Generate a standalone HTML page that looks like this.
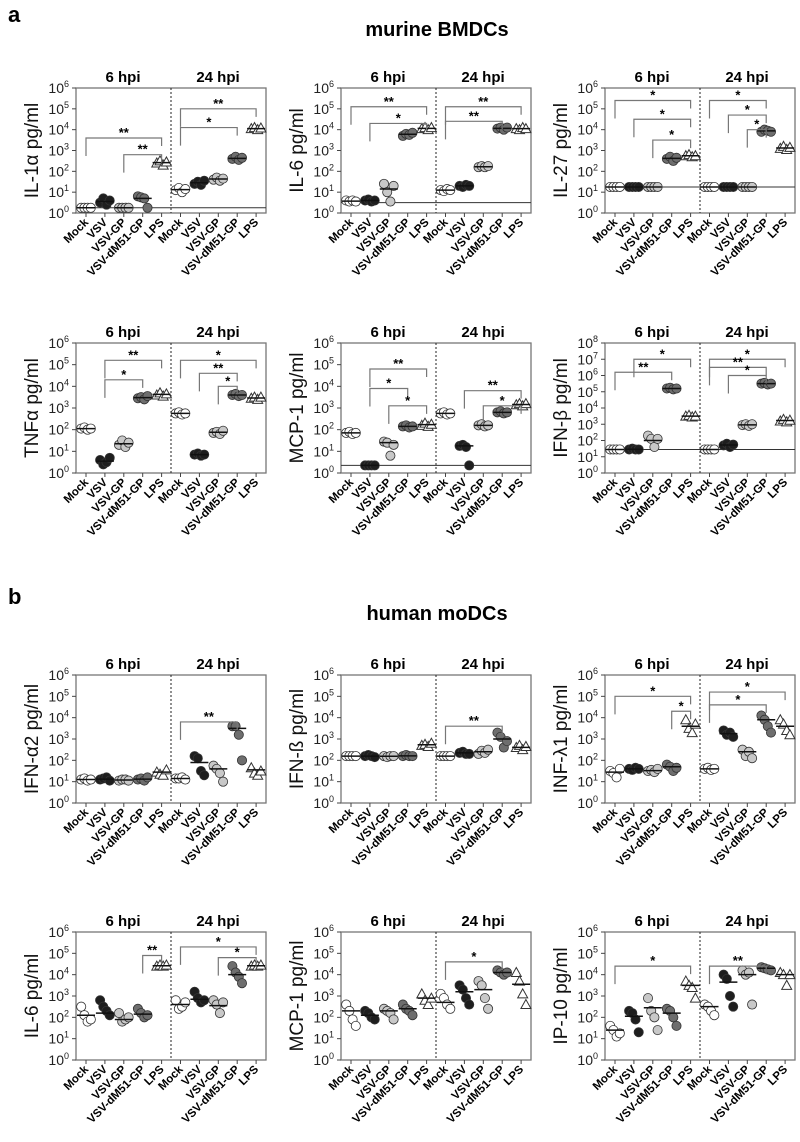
<!DOCTYPE html>
<html><head><meta charset="utf-8"><style>
body{margin:0;background:#fff;}
svg{display:block;font-family:"Liberation Sans",Arial,sans-serif;}
</style></head><body>
<svg id="fig" width="800" height="1142" viewBox="0 0 800 1142">
<text x="8" y="22" font-size="22" font-weight="bold">a</text>
<text x="437" y="36" font-size="20" font-weight="bold" text-anchor="middle">murine BMDCs</text>
<text x="8" y="604" font-size="22" font-weight="bold">b</text>
<text x="437" y="620" font-size="20" font-weight="bold" text-anchor="middle">human moDCs</text>
</svg>
<script>
const categories=["Mock","VSV","VSV-GP","VSV-dM51-GP","LPS","Mock","VSV","VSV-GP","VSV-dM51-GP","LPS"];
const titles=["IL-1α pg/ml","IL-6 pg/ml","IL-27 pg/ml","TNFα pg/ml","MCP-1 pg/ml","IFN-β pg/ml","IFN-α2 pg/ml","IFN-ß pg/ml","INF-λ1 pg/ml","IL-6 pg/ml","MCP-1 pg/ml","IP-10 pg/ml"];
const yMax=[6,6,6,6,6,8,6,6,6,6,6,6];
const lod=[0.25,0.5,1.25,null,0.35,1.45,null,null,null,null,null,null];
const pts=[
[[.25,.25,.25,.25],[.5,.7,.4,.6],[.25,.25,.25,.25],[.8,.75,.7,.25],[2.4,2.5,2.3,2.45],[1.1,1.2,1,1.15],[1.4,1.5,1.35,1.55],[1.6,1.7,1.55,1.65],[2.6,2.7,2.55,2.65],[4.05,4.1,4,4.08]],
[[.6,.55,.6,.55],[.6,.65,.55,.6],[1.4,1,.55,1.3],[3.7,3.8,3.75,3.85],[4.05,4.1,4,4.1],[1.1,1.05,1.15,1.1],[1.3,1.25,1.35,1.3],[2.2,2.25,2.2,2.25],[4.05,4.1,4,4.1],[4.05,4,4.1,4.05]],
[[1.25,1.25,1.25,1.25],[1.25,1.25,1.25,1.25],[1.25,1.25,1.25,1.25],[2.6,2.7,2.5,2.65],[2.75,2.8,2.7,2.75],[1.25,1.25,1.25,1.25],[1.25,1.25,1.25,1.25],[1.25,1.25,1.25,1.25],[3.9,4,3.95,3.9],[3.1,3.2,3.05,3.15]],
[[2.05,2.1,2,2.05],[.6,.4,.5,.7],[1.3,1.5,1.2,1.4],[3.45,3.5,3.4,3.55],[3.6,3.7,3.55,3.65],[2.75,2.8,2.7,2.75],[.85,.9,.8,.85],[1.85,1.9,1.8,1.95],[3.6,3.65,3.55,3.6],[3.45,3.5,3.4,3.5]],
[[1.85,1.9,1.8,1.85],[.35,.35,.35,.35],[1.45,1.4,.8,1.3],[2.15,2.2,2.1,2.15],[2.2,2.3,2.15,2.25],[2.75,2.8,2.7,2.75],[1.25,1.3,1.2,.35],[2.2,2.25,2.15,2.2],[2.8,2.85,2.75,2.8],[3.15,3.2,3.1,3.2]],
[[1.45,1.45,1.45,1.45],[1.45,1.5,1.45,1.45],[2.3,2.1,1.6,2.1],[5.2,5.25,5.15,5.2],[3.5,3.55,3.45,3.5],[1.45,1.45,1.45,1.45],[1.7,1.8,1.6,1.75],[2.95,3,2.9,3],[5.5,5.55,5.45,5.5],[3.2,3.3,3.15,3.25]],
[[1.1,1.15,1.05,1.1],[1.1,1.15,1.2,1.05],[1.05,1.1,1.1,1.05],[1.1,1.15,1.05,1.2],[1.45,1.35,1.3,1.55],[1.15,1.15,1.2,1.1],[2.2,2.1,1.5,1.3],[1.75,1.6,1.4,1],[3.6,3.6,3.2,2],[1.65,1.4,1.3,1.5]],
[[2.2,2.2,2.2,2.2],[2.2,2.25,2.2,2.15],[2.2,2.15,2.2,2.2],[2.2,2.25,2.2,2.2],[2.7,2.75,2.65,2.8],[2.2,2.2,2.2,2.2],[2.35,2.4,2.3,2.3],[2.3,2.45,2.35,2.5],[3.3,3.1,2.6,2.9],[2.6,2.7,2.5,2.65]],
[[1.5,1.4,1.2,1.6],[1.6,1.55,1.65,1.6],[1.5,1.55,1.45,1.6],[1.8,1.7,1.5,1.65],[3.9,3.5,3.3,3.7],[1.6,1.65,1.55,1.6],[3.4,3.2,3.3,3.1],[2.5,2.2,2.4,2.1],[4.1,3.9,3.6,3.3],[3.9,3.7,3.4,3.2]],
[[2.5,2.1,1.8,1.9],[2.8,2.5,2.3,2.1],[2.2,1.8,1.9,2],[2.4,2.2,2,2.1],[4.4,4.45,4.4,4.45],[2.8,2.4,2.5,2.7],[3.2,2.9,2.7,2.8],[2.8,2.6,2.2,2.7],[4.4,4.1,3.9,3.6],[4.4,4.45,4.4,4.45]],
[[2.6,2.3,1.9,1.6],[2.3,2.2,2,1.9],[2.4,2.3,2.2,1.9],[2.6,2.4,2.3,2.1],[3.1,2.8,2.6,2.9],[3.1,2.9,2.6,2.4],[3.5,3.3,2.9,2.6],[3.7,3.5,2.9,2.4],[4.2,4.1,4,4.1],[4.1,3.7,3.1,2.6]],
[[1.6,1.4,1.1,1.25],[2.3,2.2,1.9,1.3],[2.9,2.3,2,1.4],[2.4,2.3,2,1.6],[3.7,3.5,3.4,2.9],[2.6,2.5,2.3,2.1],[4,3.8,3,2.5],[4.2,4,4.1,2.6],[4.35,4.3,4.25,4.2],[4.1,4,3.5,4]]
];
const means=[
[.25,.55,.25,.7,2.42,1.12,1.45,1.63,2.62,4.05],
[.57,.6,1.15,3.78,4.06,1.1,1.3,2.22,4.06,4.05],
[1.25,1.25,1.25,2.62,2.75,1.25,1.25,1.25,3.94,3.12],
[2.05,.55,1.35,3.48,3.63,2.75,.85,1.88,3.6,3.46],
[1.85,.35,1.4,2.15,2.23,2.75,1.25,2.2,2.8,3.16],
[1.45,1.46,2,5.2,3.5,1.45,1.72,2.96,5.5,3.23],
[1.1,1.12,1.08,1.12,1.45,1.15,1.9,1.6,3.5,1.55],
[2.2,2.2,2.19,2.21,2.73,2.2,2.35,2.4,3,2.61],
[1.45,1.6,1.52,1.7,3.6,1.6,3.25,2.4,3.9,3.6],
[2.1,2.2,1.9,2.15,4.42,2.6,2.85,2.55,4,4.42],
[2.3,2.1,2.3,2.4,2.9,2.7,3.2,3.3,4.1,3.55],
[1.4,2.05,2.45,2.2,3.5,2.5,3.65,4,4.3,4]
];
const brackets=[
[[0,4,3.6,"**"],[2,4,2.8,"**"],[5,9,5,"**"],[5,8,4.1,"*"]],
[[0,4,5.1,"**"],[1,4,4.3,"*"],[5,9,5.1,"**"],[5,8,4.4,"**"]],
[[0,4,5.4,"*"],[1,4,4.5,"*"],[2,4,3.5,"*"],[5,8,5.4,"*"],[6,8,4.7,"*"],[7,8,4,"*"]],
[[1,4,5.2,"**"],[1,3,4.3,"*"],[5,9,5.2,"*"],[6,8,4.6,"**"],[7,8,4,"*"]],
[[1,4,4.8,"**"],[1,3,3.9,"*"],[2,4,3.1,"*"],[6,9,3.8,"**"],[7,9,3.1,"*"]],
[[0,3,6.2,"**"],[1,4,7,"*"],[5,9,7,"*"],[5,8,6.5,"**"],[6,8,6,"*"]],
[[5,8,3.8,"**"]],
[[5,8,3.6,"**"]],
[[0,4,5,"*"],[3,4,4.3,"*"],[5,9,5.2,"*"],[5,8,4.6,"*"]],
[[3,4,4.9,"**"],[5,9,5.3,"*"],[7,9,4.8,"*"]],
[[5,8,4.6,"*"]],
[[0,4,4.4,"*"],[5,8,4.4,"**"]]
];
const colLeft=[76,341,605];
const rowTop=[88,343,675,932];
const rowH=[125,130,128,128];
const PW=190;
const fills=["#fff","#1e1e1e","#c8c8c8","#6e6e6e","#fff"];
const NS="http://www.w3.org/2000/svg";
const svg=document.getElementById('fig');
function mk(tag,attrs,parent){const e=document.createElementNS(NS,tag);for(const k in attrs)e.setAttribute(k,attrs[k]);(parent||svg).appendChild(e);return e;}
titles.forEach((t,p)=>{
  const L=colLeft[p%3],T=rowTop[Math.floor(p/3)],H=rowH[Math.floor(p/3)],B=T+H,R=L+PW,ym=yMax[p];
  const g=mk('g',{});
  
  
  const y=v=>B-v/ym*H;
  const x=i=>L+10+i*18.9;
  const fr=mk('rect',{x:L,y:T,width:PW,height:H,fill:'none',stroke:'#777','stroke-width':1.3},g);
  
  
  const dv=mk('line',{x1:L+95,x2:L+95,y1:T,y2:B,stroke:'#222','stroke-dasharray':'2,2','stroke-width':1},g);
  
  
  [["6 hpi",L+47],["24 hpi",L+142]].forEach(([s,cx])=>{const tt=mk('text',{x:cx,y:T-6,'font-size':15,'font-weight':'bold','text-anchor':'middle'},g);tt.textContent=s;
    
    });
  for(let k=0;k<=ym;k++){
    mk('line',{x1:L-4,x2:L,y1:y(k),y2:y(k),stroke:'#444'},g);
    const lb=mk('text',{x:L-7,y:y(k)+5,'font-size':14,'text-anchor':'end',fill:'#222'},g);
    
    
    lb.innerHTML='10<tspan dy="-6" font-size="9">'+k+'</tspan>';
  }
  const yt=mk('text',{transform:`translate(${L-38},${T+H/2}) rotate(-90)`,'font-size':19,'text-anchor':'middle',fill:'#111'},g);
  yt.textContent=t;
  
  
  if(lod[p]!==null){const ll=mk('line',{x1:L,x2:R,y1:y(lod[p]),y2:y(lod[p]),stroke:'#333','stroke-width':1},g);
    
    }
  categories.forEach((c,i)=>{
    mk('line',{x1:x(i),x2:x(i),y1:B,y2:B+4,stroke:'#444'},g);
    const xl=mk('text',{transform:`translate(${x(i)+3},${B+10}) rotate(-45)`,'font-size':11.5,'font-weight':'bold','text-anchor':'end'},g);
    xl.textContent=c;
    
    
    const gi=i%5;
    pts[p][i].forEach((v,j)=>{
      const off=(j-1.5)*3.2;
      let m;
      if(gi===4){const cx=x(i)+off,cy=y(v);m=mk('polygon',{points:`${cx},${cy-5} ${cx-5},${cy+4} ${cx+5},${cy+4}`,fill:'#fff',stroke:'#333','stroke-width':1},g);}
      else m=mk('circle',{cx:x(i)+off,cy:y(v),r:4.6,fill:fills[gi],stroke:'#333','stroke-width':0.8},g);
      
      
    });
    const mn=mk('line',{x1:x(i)-9,x2:x(i)+9,y1:y(means[p][i]),y2:y(means[p][i]),stroke:'#111','stroke-width':1.5},g);
    
    
  });
  brackets[p].forEach(([a,b,v,s])=>{
    const by=y(v);
    const bl=mk('polyline',{points:`${x(a)},${by+18} ${x(a)},${by} ${x(b)},${by} ${x(b)},${by+8}`,fill:'none',stroke:'#777','stroke-width':1.2},g);
    
    
    const st=mk('text',{x:(x(a)+x(b))/2,y:by-1,'font-size':13,'font-weight':'bold','text-anchor':'middle'},g);
    st.textContent=s;
    
    
  });
});
</script>
</body></html>
